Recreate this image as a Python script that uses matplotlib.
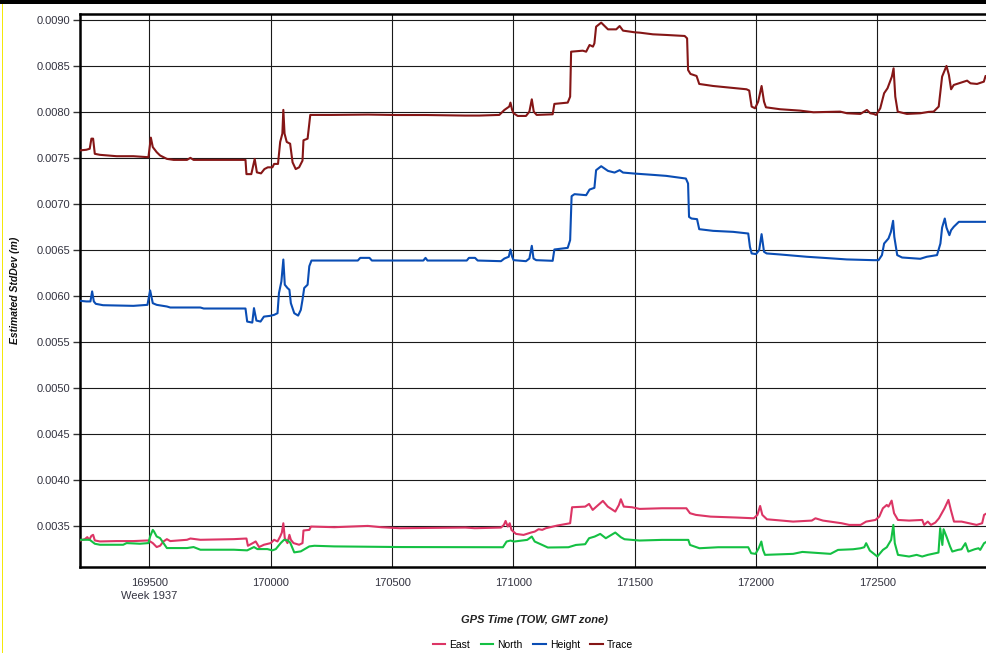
#!/usr/bin/env python3
"""Estimated StdDev (East / North / Height / Trace) vs GPS time of week."""

import matplotlib
matplotlib.use("Agg")
matplotlib.rcParams.update({
    "font.family": "sans-serif",
    "font.sans-serif": ["Liberation Sans", "DejaVu Sans"],
})

import matplotlib.pyplot as plt
import matplotlib.ticker as mticker
from matplotlib.patches import Rectangle

# ── data ──────────────────────────────────────────────────────────────────
trace_t = [169213, 169240, 169254, 169261, 169268, 169275, 169296, 169365, 169434, 169496,
           169506, 169514, 169530, 169544, 169572, 169600, 169655, 169669, 169682, 169896,
           169900, 169920, 169934, 169943, 169960, 169974, 169988, 170007, 170014, 170030,
           170039, 170048, 170052, 170057, 170066, 170080, 170090, 170103, 170117, 170131,
           170135, 170152, 170163, 170250, 170400, 170520, 170640, 170700, 170800, 170860,
           170942, 170963, 170983, 170988, 170995, 171001, 171018, 171052, 171066, 171076,
           171084, 171096, 171162, 171169, 171224, 171234, 171238, 171286, 171300, 171314,
           171328, 171334, 171341, 171362, 171390, 171424, 171438, 171452, 171500, 171521,
           171575, 171630, 171706, 171716, 171720, 171730, 171755, 171766, 171823, 171906,
           171961, 171972, 171982, 171996, 172009, 172023, 172033, 172041, 172099, 172181,
           172237, 172347, 172375, 172430, 172457, 172471, 172485, 172495, 172512, 172528,
           172542, 172560, 172567, 172574, 172584, 172622, 172677, 172711, 172732, 172753,
           172767, 172785, 172795, 172804, 172815, 172870, 172884, 172911, 172939, 172946,
           172954]
trace_v = [0.007585, 0.007592, 0.007603, 0.007713, 0.007713, 0.007548, 0.007537, 0.007522, 0.007522, 0.007511,
           0.007724, 0.007621, 0.007566, 0.007530, 0.007493, 0.007482, 0.007482, 0.007504, 0.007482, 0.007482,
           0.007327, 0.007327, 0.007493, 0.007346, 0.007335, 0.007382, 0.007401, 0.007401, 0.007438, 0.007438,
           0.007677, 0.007768, 0.008026, 0.007768, 0.007677, 0.007658, 0.007456, 0.007382, 0.007401, 0.007474,
           0.007695, 0.007713, 0.007971, 0.007971, 0.007975, 0.007970, 0.007970, 0.007968, 0.007964, 0.007964,
           0.007971, 0.008025, 0.008062, 0.008105, 0.008025, 0.007989, 0.007960, 0.007960, 0.008007, 0.008141,
           0.008007, 0.007971, 0.007978, 0.008091, 0.008105, 0.008170, 0.008659, 0.008670, 0.008659, 0.008732,
           0.008714, 0.008750, 0.008931, 0.008975, 0.008902, 0.008902, 0.008938, 0.008888, 0.008870, 0.008866,
           0.008848, 0.008841, 0.008830, 0.008804, 0.008460, 0.008417, 0.008395, 0.008308, 0.008286, 0.008264,
           0.008250, 0.008236, 0.008062, 0.008043, 0.008116, 0.008286, 0.008116, 0.008054, 0.008033, 0.008018,
           0.008000, 0.008007, 0.007989, 0.007982, 0.008025, 0.007989, 0.007982, 0.007971, 0.008043, 0.008207,
           0.008261, 0.008388, 0.008478, 0.008170, 0.008007, 0.007982, 0.007989, 0.008004, 0.008007, 0.008062,
           0.008388, 0.008504, 0.008406, 0.008250, 0.008297, 0.008344, 0.008315, 0.008308, 0.008333, 0.008395,
           0.008370]

height_t = [169213, 169240, 169257, 169264, 169271, 169279, 169309, 169434, 169492, 169503,
            169514, 169530, 169572, 169586, 169710, 169724, 169896, 169903, 169924, 169931,
            169941, 169958, 169972, 169997, 170014, 170028, 170034, 170044, 170052, 170058,
            170069, 170077, 170083, 170097, 170113, 170124, 170131, 170138, 170152, 170159,
            170168, 170359, 170369, 170407, 170417, 170629, 170638, 170646, 170808, 170817,
            170842, 170853, 170949, 170963, 170981, 170988, 170995, 171001, 171052, 171066,
            171076, 171083, 171094, 171162, 171169, 171224, 171234, 171240, 171252, 171300,
            171314, 171334, 171341, 171362, 171390, 171417, 171438, 171452, 171500, 171575,
            171630, 171711, 171720, 171724, 171734, 171757, 171766, 171823, 171906, 171968,
            171975, 171982, 172000, 172013, 172023, 172033, 172044, 172099, 172209, 172319,
            172374, 172484, 172505, 172519, 172528, 172546, 172556, 172565, 172570, 172582,
            172602, 172677, 172704, 172746, 172760, 172767, 172778, 172785, 172797, 172804,
            172815, 172836, 172954]
height_v = [0.005949, 0.005942, 0.005942, 0.006051, 0.005942, 0.005916, 0.005901, 0.005894, 0.005905, 0.006062,
            0.005923, 0.005905, 0.005887, 0.005876, 0.005876, 0.005865, 0.005865, 0.005723, 0.005712, 0.005869,
            0.005734, 0.005723, 0.005777, 0.005785, 0.005796, 0.005814, 0.006033, 0.006160, 0.006398, 0.006124,
            0.006088, 0.006069, 0.005923, 0.005814, 0.005788, 0.005850, 0.005960, 0.006088, 0.006124, 0.006325,
            0.006387, 0.006387, 0.006416, 0.006416, 0.006387, 0.006387, 0.006416, 0.006387, 0.006387, 0.006416,
            0.006416, 0.006387, 0.006380, 0.006409, 0.006428, 0.006507, 0.006428, 0.006391, 0.006380, 0.006409,
            0.006547, 0.006409, 0.006391, 0.006384, 0.006507, 0.006525, 0.006609, 0.007087, 0.007109, 0.007098,
            0.007159, 0.007178, 0.007370, 0.007413, 0.007362, 0.007344, 0.007370, 0.007344, 0.007333, 0.007319,
            0.007308, 0.007279, 0.007225, 0.006862, 0.006844, 0.006837, 0.006728, 0.006710, 0.006699, 0.006681,
            0.006536, 0.006464, 0.006457, 0.006500, 0.006674, 0.006482, 0.006464, 0.006453, 0.006428, 0.006409,
            0.006399, 0.006391, 0.006391, 0.006446, 0.006572, 0.006627, 0.006699, 0.006819, 0.006645, 0.006446,
            0.006420, 0.006406, 0.006428, 0.006446, 0.006572, 0.006746, 0.006844, 0.006746, 0.006663, 0.006717,
            0.006754, 0.006808, 0.006808]

east_t = [169216, 169234, 169244, 169252, 169261, 169268, 169275, 169296, 169365, 169434,
          169496, 169503, 169514, 169530, 169544, 169558, 169572, 169586, 169655, 169669,
          169710, 169848, 169900, 169906, 169931, 169938, 169952, 169972, 170000, 170014,
          170028, 170039, 170046, 170052, 170058, 170069, 170077, 170083, 170094, 170117,
          170131, 170135, 170159, 170166, 170262, 170400, 170455, 170532, 170802, 170841,
          170949, 170961, 170968, 170977, 170985, 170992, 171000, 171011, 171042, 171073,
          171088, 171104, 171119, 171134, 171181, 171219, 171234, 171242, 171296, 171312,
          171327, 171350, 171369, 171389, 171420, 171435, 171443, 171455, 171489, 171520,
          171613, 171713, 171728, 171752, 171813, 171921, 171991, 172006, 172017, 172026,
          172045, 172076, 172153, 172230, 172245, 172276, 172353, 172384, 172431, 172454,
          172492, 172508, 172523, 172539, 172546, 172559, 172569, 172585, 172631, 172685,
          172693, 172708, 172721, 172739, 172754, 172777, 172793, 172803, 172816, 172847,
          172878, 172909, 172932, 172940, 172952]
east_v = [0.003342, 0.003356, 0.003378, 0.003349, 0.003392, 0.003403, 0.003342, 0.003331, 0.003335, 0.003335,
          0.003342, 0.003331, 0.003313, 0.003270, 0.003284, 0.003331, 0.003356, 0.003335, 0.003349, 0.003363,
          0.003349, 0.003356, 0.003363, 0.003284, 0.003320, 0.003331, 0.003270, 0.003295, 0.003313, 0.003349,
          0.003331, 0.003385, 0.003428, 0.003529, 0.003367, 0.003313, 0.003403, 0.003349, 0.003313, 0.003295,
          0.003313, 0.003450, 0.003457, 0.003493, 0.003486, 0.003500, 0.003486, 0.003475, 0.003482, 0.003475,
          0.003482, 0.003511, 0.003554, 0.003493, 0.003529, 0.003457, 0.003438, 0.003413, 0.003402, 0.003428,
          0.003438, 0.003464, 0.003457, 0.003475, 0.003504, 0.003522, 0.003529, 0.003703, 0.003710, 0.003739,
          0.003674, 0.003728, 0.003772, 0.003710, 0.003656, 0.003728, 0.003790, 0.003710, 0.003703, 0.003685,
          0.003692, 0.003692, 0.003638, 0.003620, 0.003601, 0.003591, 0.003583, 0.003620, 0.003717, 0.003620,
          0.003572, 0.003565, 0.003547, 0.003558, 0.003583, 0.003558, 0.003529, 0.003511, 0.003511, 0.003547,
          0.003565, 0.003601, 0.003692, 0.003728, 0.003710, 0.003775, 0.003638, 0.003565, 0.003558, 0.003565,
          0.003511, 0.003547, 0.003511, 0.003536, 0.003583, 0.003692, 0.003783, 0.003674, 0.003547, 0.003547,
          0.003529, 0.003511, 0.003529, 0.003620, 0.003638]

north_t = [169216, 169254, 169275, 169296, 169392, 169406, 169461, 169496, 169503, 169514,
           169519, 169530, 169544, 169558, 169572, 169655, 169682, 169710, 169848, 169903,
           169931, 169945, 169986, 170007, 170021, 170041, 170055, 170069, 170080, 170097,
           170124, 170159, 170180, 170262, 170539, 170957, 170972, 170988, 171003, 171057,
           171076, 171088, 171119, 171142, 171227, 171258, 171296, 171312, 171335, 171358,
           171381, 171420, 171443, 171458, 171520, 171613, 171721, 171728, 171767, 171844,
           171968, 171980, 171998, 172011, 172022, 172029, 172037, 172153, 172191, 172307,
           172338, 172400, 172431, 172446, 172454, 172469, 172500, 172523, 172539, 172557,
           172566, 172572, 172585, 172631, 172662, 172685, 172708, 172752, 172759, 172768,
           172773, 172785, 172800, 172809, 172832, 172847, 172863, 172875, 172901, 172917,
           172924, 172940, 172952]
north_v = [0.003349, 0.003349, 0.003306, 0.003295, 0.003295, 0.003313, 0.003306, 0.003313, 0.003385, 0.003457,
           0.003439, 0.003385, 0.003367, 0.003313, 0.003259, 0.003259, 0.003270, 0.003241, 0.003241, 0.003234,
           0.003270, 0.003248, 0.003248, 0.003234, 0.003248, 0.003313, 0.003349, 0.003342, 0.003320, 0.003212,
           0.003223, 0.003277, 0.003284, 0.003277, 0.003270, 0.003268, 0.003330, 0.003341, 0.003330, 0.003348,
           0.003384, 0.003330, 0.003293, 0.003265, 0.003268, 0.003293, 0.003301, 0.003366, 0.003384, 0.003413,
           0.003366, 0.003428, 0.003377, 0.003355, 0.003341, 0.003348, 0.003348, 0.003293, 0.003257, 0.003268,
           0.003268, 0.003203, 0.003196, 0.003257, 0.003330, 0.003239, 0.003185, 0.003196, 0.003217, 0.003196,
           0.003239, 0.003246, 0.003257, 0.003268, 0.003312, 0.003232, 0.003167, 0.003239, 0.003268, 0.003348,
           0.003511, 0.003312, 0.003185, 0.003167, 0.003185, 0.003167, 0.003185, 0.003210, 0.003475, 0.003293,
           0.003464, 0.003384, 0.003275, 0.003221, 0.003239, 0.003246, 0.003312, 0.003221, 0.003246, 0.003257,
           0.003239, 0.003312, 0.003330]

x_ticks = [169500, 170000, 170500, 171000, 171500, 172000, 172500]
x_tick_labels = ["169500\nWeek 1937", "170000", "170500", "171000", "171500", "172000", "172500"]
y_ticks = [0.0035, 0.0040, 0.0045, 0.0050, 0.0055, 0.0060, 0.0065,
           0.0070, 0.0075, 0.0080, 0.0085, 0.0090]

C_EAST = "#DC3565"
C_NORTH = "#14C043"
C_HEIGHT = "#0A4DB4"
C_TRACE = "#851616"
C_TICK = "#333340"

W, H = 987, 653


def main():
    fig = plt.figure(figsize=(W / 100, H / 100), dpi=100)
    fig.patch.set_facecolor("white")

    # window decorations visible at the edges of the screenshot
    fig.patches.append(Rectangle((0, 1 - 4 / H), 1, 4 / H, transform=fig.transFigure,
                                 facecolor="black", edgecolor="none", zorder=0))
    fig.patches.append(Rectangle((2 / W, 0), 1.5 / W, 1 - 4 / H, transform=fig.transFigure,
                                 facecolor="#F4E80A", edgecolor="none", zorder=0))

    ax = fig.add_axes([80 / W, 1 - 567 / H, 1 - 80 / W, (567 - 14) / H])

    lw = 1.5
    ax.plot(east_t, east_v, color=C_EAST, lw=lw, label="East", zorder=3)
    ax.plot(north_t, north_v, color=C_NORTH, lw=lw, label="North", zorder=3)
    ax.plot(height_t, height_v, color=C_HEIGHT, lw=lw, label="Height", zorder=3)
    ax.plot(trace_t, trace_v, color=C_TRACE, lw=lw, label="Trace", zorder=3)

    ax.set_xlim(169214, 172952)
    ax.set_ylim(0.003053, 0.009069)

    ax.set_xticks(x_ticks)
    ax.set_xticklabels(x_tick_labels, linespacing=1.35)
    ax.set_yticks(y_ticks)
    ax.yaxis.set_major_formatter(mticker.FormatStrFormatter("%.4f"))
    ax.tick_params(axis="x", length=0, pad=8, labelsize=8, labelcolor=C_TICK)
    ax.tick_params(axis="y", length=5, width=1, color="#333333", pad=2,
                   labelsize=8, labelcolor=C_TICK)

    ax.grid(True, color="#1a1a1a", lw=0.8, zorder=1)
    ax.set_axisbelow(True)

    for sp in ["left", "bottom", "top"]:
        ax.spines[sp].set_color("black")
        ax.spines[sp].set_linewidth(1.8)
    ax.spines["right"].set_visible(False)

    fig.text(15 / W, 1 - 290 / H, "Estimated StdDev (m)", rotation=90,
             ha="center", va="center", fontsize=7.5, fontweight="bold",
             fontstyle="italic", color="#111111")
    fig.text(535 / W, 1 - 620 / H, "GPS Time (TOW, GMT zone)", ha="center",
             va="center", fontsize=8, fontweight="bold", fontstyle="italic",
             color="#222222")

    fig.legend(loc="center", bbox_to_anchor=(533 / W, 1 - 645 / H), ncol=4,
               frameon=False, fontsize=7.5, handlelength=1.2, handletextpad=0.4,
               columnspacing=1.0, borderaxespad=0)

    fig.savefig("out.png", dpi=100, facecolor="white")
    plt.close(fig)


if __name__ == "__main__":
    main()
